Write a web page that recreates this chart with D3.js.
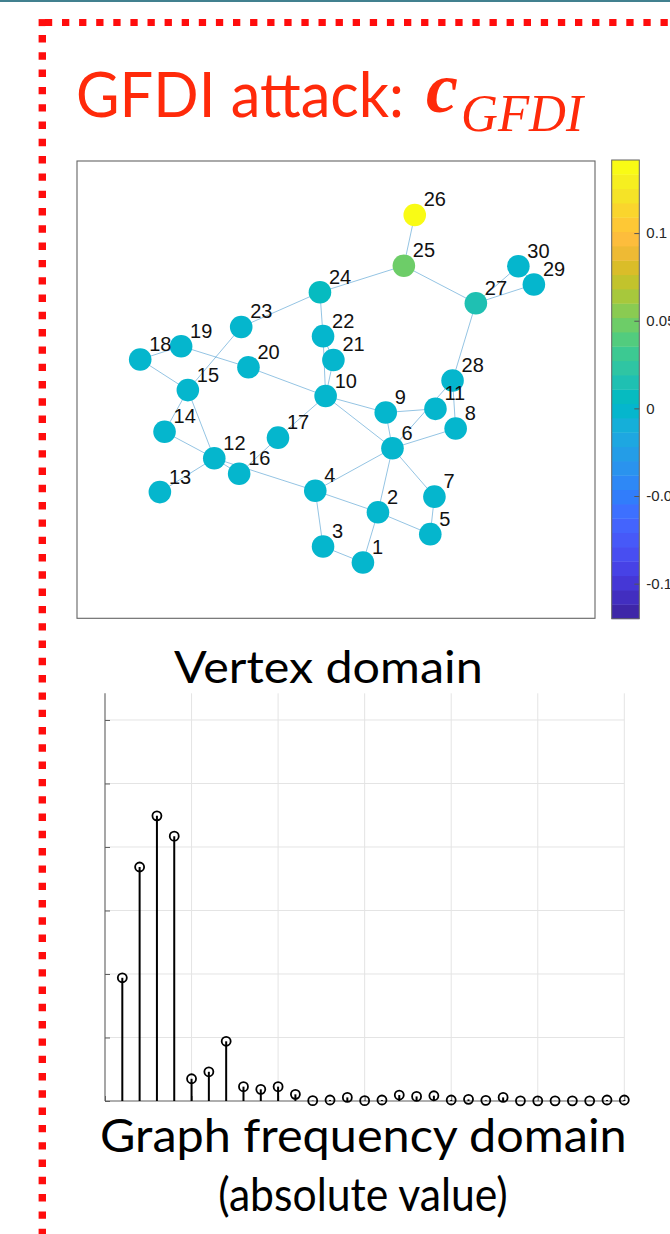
<!DOCTYPE html>
<html>
<head>
<meta charset="utf-8">
<script src="https://cdn.jsdelivr.net/npm/d3@7/dist/d3.min.js"></script>
<style>
  html, body { margin: 0; padding: 0; background: #fff; }
  svg { display: block; }
</style>
</head>
<body>
<svg id="fig" width="670" height="1234"></svg>
<script>
// ---- IEEE 30-bus graph: node layout (plot units) ----
const nodeIds = d3.range(1, 31);
const nodeX = [55.2, 58.1, 47.5, 46.0, 68.2, 60.9, 69.0, 73.1, 59.6, 48.0,
               69.2, 26.5, 16.0, 16.9, 21.4, 31.3, 38.8, 12.2, 20.1, 33.1,
               49.5, 47.5, 31.7, 46.9, 63.1, 65.2, 77.0, 72.5, 88.2, 85.2];
const nodeY = [12.2, 23.2, 15.7, 27.9, 18.4, 37.2, 26.6, 41.5, 45.0, 48.6,
               45.8, 35.0, 27.6, 40.8, 49.9, 31.6, 39.5, 56.6, 59.5, 54.9,
               56.5, 61.7, 63.7, 71.3, 77.1, 88.2, 68.9, 52.0, 73.0, 77.0];
// attack vector c_GFDI on each bus
const nodeValue = [0, 0, 0, 0, 0, 0, 0, 0, 0, 0,
                   0, 0, 0, 0, 0, 0, 0, 0, 0, 0,
                   0, 0, 0, 0.006, 0.048, 0.14, 0.017, 0, 0, 0];
// branches
const edgeFrom = [1, 1, 2, 3, 2, 2, 4, 5, 6, 6, 6, 6, 9, 9, 4, 12, 12, 12, 12, 14, 16,
                  15, 18, 19, 10, 10, 10, 10, 21, 15, 22, 23, 24, 25, 25, 28, 27, 27, 29, 8, 6];
const edgeTo   = [2, 3, 4, 4, 5, 6, 6, 7, 7, 8, 9, 10, 11, 10, 12, 13, 14, 15, 16, 15, 17,
                  18, 19, 20, 20, 17, 21, 22, 22, 23, 24, 24, 25, 26, 27, 27, 29, 30, 30, 28, 28];

// ---- colour bar ----
const cLimits = [-0.12, 0.1417];
const cTicks = [-0.1, -0.05, 0, 0.05, 0.1];
const cTickLabels = ["-0.1", "-0.05", "0", "0.05", "0.1"];
const nBands = 32;

// ---- graph frequency domain (absolute value) ----
const freqIndex = d3.range(1, 31);
const freqMag = [0.194, 0.3685, 0.449, 0.417, 0.035, 0.046, 0.094, 0.0226, 0.0184, 0.0226,
                 0.0105, 0.0005, 0.0016, 0.0057, 0.0005, 0.0016, 0.0094, 0.0072, 0.0083, 0.0016,
                 0.0026, 0.001, 0.0057, 0.0002, 0.0002, 0.0002, 0.0002, 0.0002, 0.0016, 0.0016];
const freqXTicks = [0, 5, 10, 15, 20, 25, 30];
const freqYTicks = [0, 0.1, 0.2, 0.3, 0.4, 0.5, 0.6];

// parula base map (64 rows)
const parula = [
[0.2422,0.1504,0.6603],[0.2504,0.1650,0.7076],[0.2578,0.1818,0.7511],[0.2647,0.1978,0.7952],
[0.2706,0.2147,0.8364],[0.2751,0.2342,0.8710],[0.2783,0.2559,0.8991],[0.2803,0.2782,0.9221],
[0.2813,0.3006,0.9414],[0.2810,0.3228,0.9579],[0.2795,0.3447,0.9717],[0.2760,0.3667,0.9829],
[0.2699,0.3892,0.9906],[0.2602,0.4123,0.9952],[0.2440,0.4358,0.9988],[0.2206,0.4603,0.9973],
[0.1963,0.4847,0.9892],[0.1834,0.5074,0.9798],[0.1786,0.5289,0.9682],[0.1764,0.5499,0.9520],
[0.1687,0.5703,0.9359],[0.1540,0.5902,0.9218],[0.1460,0.6091,0.9079],[0.1380,0.6276,0.8973],
[0.1248,0.6459,0.8883],[0.1113,0.6635,0.8763],[0.0952,0.6798,0.8598],[0.0689,0.6948,0.8394],
[0.0297,0.7082,0.8163],[0.0036,0.7203,0.7917],[0.0067,0.7312,0.7660],[0.0433,0.7411,0.7394],
[0.0964,0.7500,0.7120],[0.1408,0.7584,0.6842],[0.1717,0.7670,0.6554],[0.1938,0.7758,0.6251],
[0.2161,0.7843,0.5923],[0.2470,0.7918,0.5567],[0.2906,0.7973,0.5188],[0.3406,0.8008,0.4789],
[0.3909,0.8029,0.4354],[0.4456,0.8024,0.3909],[0.5044,0.7993,0.3480],[0.5616,0.7942,0.3045],
[0.6174,0.7876,0.2612],[0.6720,0.7793,0.2227],[0.7242,0.7698,0.1910],[0.7738,0.7598,0.1646],
[0.8203,0.7498,0.1535],[0.8634,0.7406,0.1596],[0.9035,0.7330,0.1774],[0.9393,0.7288,0.2100],
[0.9728,0.7298,0.2394],[0.9956,0.7434,0.2371],[0.9970,0.7659,0.2199],[0.9952,0.7893,0.2028],
[0.9892,0.8136,0.1885],[0.9786,0.8386,0.1766],[0.9676,0.8639,0.1643],[0.9610,0.8890,0.1537],
[0.9597,0.9135,0.1423],[0.9628,0.9373,0.1265],[0.9691,0.9606,0.1064],[0.9769,0.9839,0.0805]];

const baseMap = d3.scaleLinear()
  .domain(parula.map((_, i) => i / (parula.length - 1)))
  .range(parula.map(c => d3.rgb(c[0] * 255, c[1] * 255, c[2] * 255).formatHex()))
  .interpolate(d3.interpolateRgb);
const bandColor = d3.range(nBands).map(k => baseMap(k / (nBands - 1)));
const colorOf = v => {
  const k = Math.floor((v - cLimits[0]) / (cLimits[1] - cLimits[0]) * nBands);
  return bandColor[Math.max(0, Math.min(nBands - 1, k))];
};

const svg = d3.select("#fig");
svg.append("rect").attr("width", 670).attr("height", 1234).attr("fill", "#fff");

// slide frame: thin rule at the top and red dotted border
svg.append("rect").attr("x", 0).attr("y", 0).attr("width", 670).attr("height", 2).attr("fill", "#41808f");
const red = "#ff0d0d";
svg.append("line").attr("x1", 44.9).attr("x2", 670).attr("y1", 22.6).attr("y2", 22.6)
  .attr("stroke", red).attr("stroke-width", 7).attr("stroke-dasharray", "7.3 9.8");
svg.append("line").attr("x1", 42.3).attr("x2", 42.3).attr("y1", 35).attr("y2", 1234)
  .attr("stroke", red).attr("stroke-width", 7.4).attr("stroke-dasharray", "7.4 9.9");
svg.append("rect").attr("x", 38.6).attr("y", 19.1).attr("width", 6.8).attr("height", 7).attr("fill", red);

// title
const titleRed = "#ff2a0a";
svg.append("text").attr("x", 76).attr("y", 117)
  .attr("font-family", "Lato, 'Open Sans', sans-serif").attr("font-size", 61)
  .attr("fill", titleRed).attr("textLength", 328).attr("lengthAdjust", "spacingAndGlyphs")
  .text("GFDI attack:");
svg.append("text").attr("x", 426).attr("y", 111.5)
  .attr("font-family", "'Liberation Serif', 'DejaVu Serif', serif").attr("font-size", 72)
  .attr("font-style", "italic").attr("font-weight", "bold").attr("fill", titleRed)
  .text("c");
svg.append("text").attr("x", 461).attr("y", 130.5)
  .attr("font-family", "'Liberation Serif', 'DejaVu Serif', serif").attr("font-size", 53)
  .attr("font-style", "italic").attr("fill", titleRed)
  .attr("textLength", 122).attr("lengthAdjust", "spacingAndGlyphs")
  .text("GFDI");

// ---- vertex domain graph ----
const gx = d3.scaleLinear().domain([0, 100]).range([77, 595]);
const gy = d3.scaleLinear().domain([0, 100]).range([618.3, 161]);
svg.append("rect").attr("x", gx(0)).attr("y", gy(100))
  .attr("width", gx(100) - gx(0)).attr("height", gy(0) - gy(100))
  .attr("fill", "#fff").attr("stroke", "#646464").attr("stroke-width", 1.1);

const nodes = nodeIds.map((id, i) => ({ id, x: nodeX[i], y: nodeY[i], v: nodeValue[i] }));
const edges = edgeFrom.map((a, i) => ({ s: nodes[a - 1], t: nodes[edgeTo[i] - 1] }));

svg.append("g").selectAll("line").data(edges).join("line")
  .attr("x1", d => gx(d.s.x)).attr("y1", d => gy(d.s.y))
  .attr("x2", d => gx(d.t.x)).attr("y2", d => gy(d.t.y))
  .attr("stroke", "#0072bd").attr("stroke-opacity", 0.42).attr("stroke-width", 1);

svg.append("g").selectAll("circle").data(nodes).join("circle")
  .attr("cx", d => gx(d.x)).attr("cy", d => gy(d.y)).attr("r", 11.3)
  .attr("fill", d => colorOf(d.v));

svg.append("g").selectAll("text").data(nodes).join("text")
  .attr("x", d => gx(d.x) + 9).attr("y", d => gy(d.y) - 8.5)
  .attr("font-family", "'Liberation Sans', Arial, sans-serif").attr("font-size", 20)
  .attr("fill", "#111").text(d => d.id);

// colour bar
const cy = d3.scaleLinear().domain(cLimits).range([618.7, 160]);
const cbX = 611.7, cbW = 27.6;
const bandStep = (cLimits[1] - cLimits[0]) / nBands;
svg.append("g").selectAll("rect").data(bandColor).join("rect")
  .attr("x", cbX).attr("width", cbW)
  .attr("y", (d, k) => cy(cLimits[0] + (k + 1) * bandStep))
  .attr("height", (d, k) => cy(cLimits[0] + k * bandStep) - cy(cLimits[0] + (k + 1) * bandStep) + 0.4)
  .attr("fill", d => d);
svg.append("rect").attr("x", cbX).attr("y", cy(cLimits[1])).attr("width", cbW)
  .attr("height", cy(cLimits[0]) - cy(cLimits[1]))
  .attr("fill", "none").attr("stroke", "#646464").attr("stroke-width", 1);
const cbAxis = d3.axisRight(cy).tickValues(cTicks).tickSize(-5).tickPadding(7)
  .tickFormat((d, i) => cTickLabels[i]);
const cbG = svg.append("g").attr("transform", `translate(${cbX + cbW},0)`).call(cbAxis);
cbG.select(".domain").remove();
cbG.selectAll(".tick line").attr("stroke", "#555");
cbG.selectAll(".tick text").attr("font-family", "'Liberation Sans', Arial, sans-serif")
  .attr("font-size", 15).attr("fill", "#262626");

svg.append("text").attr("x", 174).attr("y", 683.3)
  .attr("font-family", "Lato, 'Open Sans', sans-serif").attr("font-size", 44)
  .attr("fill", "#000").attr("textLength", 308.7).attr("lengthAdjust", "spacingAndGlyphs")
  .text("Vertex domain");

// ---- graph frequency domain stem plot ----
const sx = d3.scaleLinear().domain([0, 30]).range([105, 624.3]);
const sy = d3.scaleLinear().domain([0, 0.642]).range([1101, 693.3]);

const gridG = svg.append("g");
gridG.selectAll("line.h").data(freqYTicks.slice(1)).join("line").attr("class", "h")
  .attr("x1", sx(0)).attr("x2", sx(30)).attr("y1", d => sy(d)).attr("y2", d => sy(d))
  .attr("stroke", "#e4e4e4").attr("stroke-width", 1);
gridG.selectAll("line.v").data(freqXTicks.slice(1)).join("line").attr("class", "v")
  .attr("x1", d => sx(d)).attr("x2", d => sx(d)).attr("y1", sy(0)).attr("y2", sy(0.642))
  .attr("stroke", "#e4e4e4").attr("stroke-width", 1);

const yAx = svg.append("g").attr("transform", `translate(${sx(0)},0)`)
  .call(d3.axisLeft(sy).tickValues(freqYTicks).tickSize(-5).tickFormat(""));
const xAx = svg.append("g").attr("transform", `translate(0,${sy(0)})`)
  .call(d3.axisBottom(sx).tickValues(freqXTicks).tickSize(-5).tickFormat(""));
[yAx, xAx].forEach(a => {
  a.select(".domain").attr("stroke", "#5e5e5e").attr("stroke-width", 1.1);
  a.selectAll(".tick line").attr("stroke", "#5e5e5e");
});
yAx.select(".domain").attr("d", `M0,${sy(0.642)}V${sy(0)}`);
xAx.select(".domain").attr("d", `M${sx(0)},0H${sx(30)}`);

const stems = freqIndex.map((k, i) => ({ k, v: freqMag[i] }));
svg.append("g").selectAll("line").data(stems).join("line")
  .attr("x1", d => sx(d.k)).attr("x2", d => sx(d.k))
  .attr("y1", sy(0)).attr("y2", d => sy(d.v))
  .attr("stroke", "#000").attr("stroke-width", 2);
svg.append("g").selectAll("circle").data(stems).join("circle")
  .attr("cx", d => sx(d.k)).attr("cy", d => sy(d.v)).attr("r", 4.5)
  .attr("fill", "none").attr("stroke", "#000").attr("stroke-width", 1.8);

svg.append("text").attr("x", 100).attr("y", 1151.7)
  .attr("font-family", "Lato, 'Open Sans', sans-serif").attr("font-size", 46.5)
  .attr("fill", "#000").attr("textLength", 526.7).attr("lengthAdjust", "spacingAndGlyphs")
  .text("Graph frequency domain");
svg.append("text").attr("x", 218.3).attr("y", 1211)
  .attr("font-family", "Lato, 'Open Sans', sans-serif").attr("font-size", 46)
  .attr("fill", "#000").attr("textLength", 289.4).attr("lengthAdjust", "spacingAndGlyphs")
  .text("(absolute value)");
</script>
</body>
</html>
